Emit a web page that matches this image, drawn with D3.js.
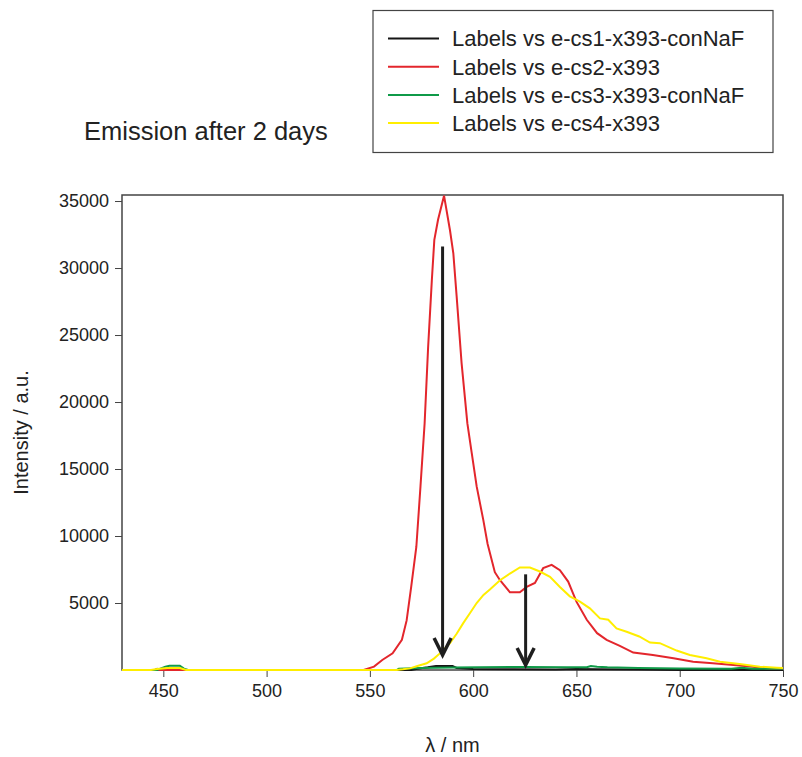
<!DOCTYPE html>
<html>
<head>
<script src="https://d3js.org/d3.v7.min.js"></script>
<style>
  body { margin: 0; background: #fff; }
  text { font-family: "Liberation Sans", Arial, sans-serif; fill: #222; }
</style>
</head>
<body>
<svg id="chart" width="802" height="757"></svg>
<script>
// wavelength (nm) / intensity (a.u.) pairs per sample
const cs1Nm  = [430, 446, 447, 448, 570, 573, 578, 582, 590, 592, 600, 620, 640, 650, 660, 680, 700, 750]
const cs1Val = [0, 0, 80, 0, 0, 100, 200, 300, 300, 150, 80, 50, 30, 80, 50, 30, 0, 0]

const cs2Nm  = [430, 547, 552, 556, 561, 565.5, 567.8, 570, 572.5, 574.5, 576.5, 578.2, 580, 581.2, 583, 585.9,
                588.8, 590.4, 592, 594.4, 597.2, 599.3, 601.7, 604.9, 607, 610.5, 613, 617.8, 622.6, 625.9, 629.9,
                633.9, 638, 642, 646, 650, 655, 660, 664.6, 671, 677.5, 687, 697, 706.5, 716, 726, 735.5, 742, 750]
const cs2Val = [0, 0, 250, 750, 1250, 2250, 3700, 6200, 9200, 13700, 18400, 24100, 29100, 32100, 33600, 35400,
                32800, 31100, 27900, 22900, 18400, 16200, 13700, 11200, 9400, 7300, 6700, 5800, 5800, 6200, 6500,
                7600, 7850, 7450, 6600, 5100, 3750, 2750, 2250, 1800, 1300, 1120, 870, 620, 500, 370, 250, 120, 80]

const cs3Nm  = [430, 447, 451, 453, 458, 460, 462, 563, 564, 575, 590, 603, 625, 645, 655, 657, 660, 665, 680, 700, 725, 730, 735, 750]
const cs3Val = [0, 0, 250, 320, 320, 100, 0, 0, 100, 150, 180, 200, 230, 200, 200, 300, 250, 200, 150, 120, 100, 170, 100, 100]

const cs4Nm  = [430, 444, 447, 452, 458, 461, 563, 566, 569.4, 573, 577.5, 581, 583.9, 588.8, 592, 595.2, 598.5,
                601.7, 605, 608.1, 613, 617.8, 622.6, 627.5, 632.3, 637.2, 642, 646.8, 651.7, 656.5, 661.4, 665.4,
                669.4, 674.3, 680.4, 685.6, 690.4, 698.5, 704.9, 713, 719.5, 729, 738.8, 747, 750]
const cs4Val = [0, 0, 80, 150, 150, 0, 0, 50, 120, 300, 500, 850, 1240, 2000, 2700, 3500, 4250,
                5000, 5600, 6000, 6700, 7200, 7650, 7650, 7350, 6950, 6200, 5500, 5100, 4600, 3850, 3750,
                3100, 2850, 2500, 2050, 2000, 1450, 1120, 870, 620, 450, 250, 170, 150]

const seriesNames = ["Labels vs e-cs1-x393-conNaF", "Labels vs e-cs2-x393", "Labels vs e-cs3-x393-conNaF", "Labels vs e-cs4-x393"]
const seriesColors = ["#151515", "#e3262c", "#0f9a48", "#ffee00"]

const xTicks = [450, 500, 550, 600, 650, 700, 750]
const yTicks = [5000, 10000, 15000, 20000, 25000, 30000, 35000]

// arrows: [wavelength, from intensity, to intensity]
const arrows = [[585.2, 31600, 1120], [625.4, 7140, 370]]

const svg = d3.select("#chart")
const plotLeft = 122, plotRight = 783, plotTop = 195, plotBottom = 670

const x = d3.scaleLinear().domain([430, 750]).range([plotLeft, plotRight])
const y = d3.scaleLinear().domain([0, 35450]).range([plotBottom, plotTop])

const allSeries = [[cs1Nm, cs1Val], [cs2Nm, cs2Val], [cs3Nm, cs3Val], [cs4Nm, cs4Val]]

const line = d3.line().x(d => x(d[0])).y(d => y(d[1]))

// frame
svg.append("rect")
    .attr("x", plotLeft).attr("y", plotTop)
    .attr("width", plotRight - plotLeft).attr("height", plotBottom - plotTop)
    .attr("fill", "none").attr("stroke", "#444").attr("stroke-width", 1.5)

// axes
const xAxis = svg.append("g")
    .attr("transform", `translate(0,${plotBottom})`)
    .call(d3.axisBottom(x).tickValues(xTicks).tickSize(7).tickPadding(7).tickFormat(d3.format("d")))
xAxis.select(".domain").remove()
xAxis.selectAll("line").attr("stroke", "#444")
xAxis.selectAll("text").attr("font-size", 18).attr("font-family", "Liberation Sans, Arial, sans-serif").attr("fill", "#222")

const yAxis = svg.append("g")
    .attr("transform", `translate(${plotLeft},0)`)
    .call(d3.axisLeft(y).tickValues(yTicks).tickSize(7).tickPadding(6).tickFormat(d3.format("d")))
yAxis.select(".domain").remove()
yAxis.selectAll("line").attr("stroke", "#444")
yAxis.selectAll("text").attr("font-size", 18).attr("font-family", "Liberation Sans, Arial, sans-serif").attr("fill", "#222")

// series
allSeries.forEach(([nm, val], i) => {
    svg.append("path")
        .datum(nm.map((w, j) => [w, val[j]]))
        .attr("d", line)
        .attr("fill", "none")
        .attr("stroke", seriesColors[i])
        .attr("stroke-width", 2)
})

// arrows
arrows.forEach(([w, from, to]) => {
    const ax = x(w), y0 = y(from), y1 = y(to)
    svg.append("line")
        .attr("x1", ax).attr("x2", ax).attr("y1", y0).attr("y2", y1 - 2)
        .attr("stroke", "#1e1e1e").attr("stroke-width", 3)
    svg.append("path")
        .attr("d", `M${ax - 8.5},${y1 - 17}L${ax},${y1}L${ax + 8.5},${y1 - 17}`)
        .attr("fill", "none").attr("stroke", "#1e1e1e").attr("stroke-width", 3.5)
})

// titles
svg.append("text").attr("x", 84).attr("y", 140).attr("font-size", 25.5).text("Emission after 2 days")
svg.append("text")
    .attr("transform", `translate(28,${(plotTop + plotBottom) / 2}) rotate(-90)`)
    .attr("text-anchor", "middle").attr("font-size", 20)
    .text("Intensity / a.u.")
svg.append("text").attr("x", x(590)).attr("y", 752)
    .attr("text-anchor", "middle").attr("font-size", 20).text("λ / nm")

// legend
const legend = svg.append("g")
legend.append("rect")
    .attr("x", 373).attr("y", 10.5).attr("width", 400).attr("height", 142)
    .attr("fill", "#fff").attr("stroke", "#444").attr("stroke-width", 1.2)
seriesNames.forEach((name, i) => {
    const ly = 38.5 + i * 28.2
    legend.append("line")
        .attr("x1", 388).attr("x2", 439).attr("y1", ly).attr("y2", ly)
        .attr("stroke", seriesColors[i]).attr("stroke-width", 2)
    legend.append("text")
        .attr("x", 452).attr("y", ly).attr("dy", "0.36em")
        .attr("font-size", 22).text(name)
})
</script>
</body>
</html>
